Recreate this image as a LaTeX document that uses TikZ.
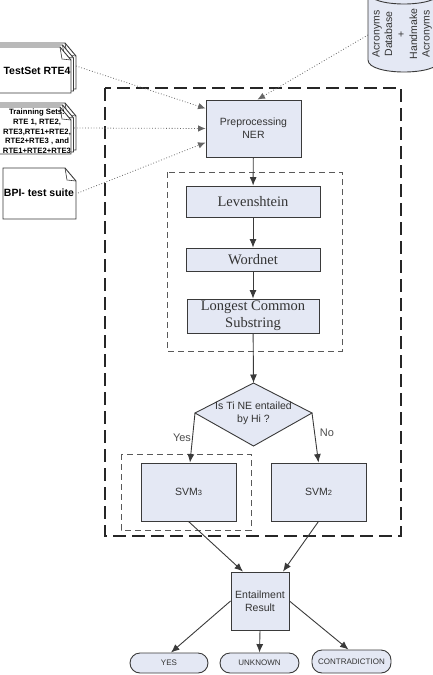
\documentclass[tikz,border=0pt]{standalone}
\usepackage{fontspec}
\setmainfont{Liberation Sans}
\newfontfamily\timesf{Liberation Serif}
\usetikzlibrary{arrows.meta,calc}
\definecolor{boxfill}{HTML}{E4E8F4}
\definecolor{edge}{HTML}{3A3A3A}
\definecolor{txt}{HTML}{333333}
\tikzset{
  x=1bp, y=-1bp,
  procbox/.style={draw=edge, fill=boxfill, line width=0.9bp, inner sep=0pt, text=txt,
    font=\fontsize{10.5bp}{13bp}\selectfont, align=center},
  serifbox/.style={procbox, font=\timesf\fontsize{14.5bp}{16bp}\selectfont},
  ovalbox/.style={draw=edge, fill=boxfill, line width=0.9bp, rounded corners=10bp, inner sep=0pt,
    text=txt, font=\fontsize{8bp}{9bp}\selectfont},
  flow/.style={draw=edge, line width=0.9bp, -{Latex[length=8.5bp,width=7bp]}},
  dotflow/.style={draw=black!60, line width=0.8bp, dotted, -{Latex[length=7.5bp,width=6.5bp]}},
  outerdash/.style={draw=black!85, line width=1.8bp, dash pattern=on 13bp off 6bp},
  innerdash/.style={draw=black!65, line width=0.9bp, dash pattern=on 6bp off 4bp},
  docpage/.style={draw=edge, fill=white, line width=0.9bp},
  doclabel/.style={font=\bfseries\fontsize{10.5bp}{12bp}\selectfont, text=black, align=center},
  branchlabel/.style={font=\fontsize{11bp}{12bp}\selectfont, text=black!70},
}
\newcommand{\mydoc}[4]{%
  \filldraw[docpage] (#1,#2) -- ({#3-11},#2) -- (#3,{#2+13}) -- (#3,#4) -- (#1,#4) -- cycle;
  \draw[edge, line width=0.6bp] ({#3-11},#2) -- ({#3-9},{#2+12}) -- (#3,{#2+13});}
\begin{document}
\begin{tikzpicture}
\useasboundingbox (0,0) rectangle (433,675);
\clip (0,0) rectangle (433,675);

% acronyms cylinder
\filldraw[docpage, fill=boxfill] (368,-20) -- (368,60) .. controls (368,76) and (440,76) .. (440,60) -- (440,-20) -- cycle;
\draw[edge, line width=0.9bp] (368,-8) .. controls (368,8) and (440,8) .. (440,-8);
\node[rotate=90, align=center, text=txt, font=\fontsize{10.5bp}{12.5bp}\selectfont] (acr) at (402,34)
  {Acronyms\\Database\\+\\Handmake\\Acronyms};
\coordinate (acrout) at (368,35);

% document stacks
\mydoc{-5}{43}{76}{89}
\mydoc{-7.5}{45}{73.5}{91}
\mydoc{-10}{47}{71}{93}
\node[doclabel] (test) at (37,71) {TestSet RTE4};
\coordinate (testout) at (76,66);

\mydoc{-5}{103}{76}{150}
\mydoc{-7.5}{105}{73.5}{152}
\mydoc{-10}{107}{71}{154}
\node[doclabel, font=\bfseries\fontsize{7.7bp}{9.7bp}\selectfont] (train) at (37,131.5)
  {Trainning Sets:\\RTE 1, RTE2,\\RTE3,RTE1+RTE2,\\RTE2+RTE3 , and\\RTE1+RTE2+RTE3};
\coordinate (trainout) at (74,128);

\mydoc{3}{168}{76}{219}
\node[doclabel] (bpi) at (39,193) {BPI- test suite};
\coordinate (bpiout) at (78,193);

% dashed frames
\draw[outerdash] (105,88) rectangle (401,536);
\draw[innerdash] (167,172) rectangle (342,351);
\draw[innerdash] (121,454) rectangle (251,530);

% main boxes
\node[procbox, minimum width=95bp, minimum height=57bp] (pre) at (253.5,128.5) {Preprocessing\\NER};
\node[serifbox, minimum width=134bp, minimum height=31bp] (lev) at (253,201.5) {Levenshtein};
\node[serifbox, minimum width=134bp, minimum height=23bp] (word) at (253,259.5) {Wordnet};
\node[serifbox, minimum width=132bp, minimum height=34bp, font=\timesf\fontsize{14.5bp}{17bp}\selectfont] (lcs) at (253,316) {Longest Common\\Substring};

% decision diamond
\coordinate (dtop) at (253.5,383);
\coordinate (dleft) at (195,413);
\coordinate (dright) at (312,413);
\coordinate (dbot) at (253.5,446);
\filldraw[draw=edge, fill=boxfill, line width=0.9bp] (dtop) -- (dright) -- (dbot) -- (dleft) -- cycle;
\node[text=txt, align=center, font=\fontsize{10.5bp}{13bp}\selectfont] (dtext) at (253.5,413) {Is Ti NE entailed\\by Hi ?};

\node[procbox, minimum width=95bp, minimum height=58bp] (svm3) at (188.5,492)
  {SVM{\fontsize{7.5bp}{8bp}\selectfont\raisebox{-0.6bp}{3}}};
\node[procbox, minimum width=95bp, minimum height=58bp] (svm2) at (318.5,492)
  {SVM{\fontsize{7.5bp}{8bp}\selectfont\raisebox{-0.6bp}{2}}};

\node[procbox, minimum width=58bp, minimum height=58bp] (res) at (260,601) {Entailment\\Result};

\node[ovalbox, minimum width=78bp, minimum height=20bp] (yes) at (169,663) {YES};
\node[ovalbox, minimum width=79bp, minimum height=20bp] (unk) at (259.5,663) {UNKNOWN};
\node[ovalbox, minimum width=79bp, minimum height=23bp] (con) at (351.5,661.5) {CONTRADICTION};

% connectors
\draw[dotflow] (testout) -- ($(pre.west)+(0,-20)$);
\draw[dotflow] (trainout) -- (pre.west);
\draw[dotflow] (bpiout) -- ($(pre.west)+(0,14)$);
\draw[dotflow] (acrout) -- ($(pre.north)+(4,0)$);

\draw[flow] (pre) -- (lev);
\draw[flow] (lev) -- (word);
\draw[flow] (word) -- (lcs);
\draw[flow] (lcs) -- (dtop);
\draw[flow] (dleft) -- ($(svm3.north)+(1.5,0)$);
\draw[flow] (dright) -- (svm2.north);
\node[branchlabel] (yeslab) at (182,438) {Yes};
\node[branchlabel] (nolab) at (327,433) {No};

\draw[flow] (svm3.south) -- ($(res.north)+(-17,0)$);
\draw[flow] (svm2.south) -- ($(res.north)+(23,0)$);
\draw[flow] (res.west) -- ($(yes.north)+(2,0)$);
\draw[flow] (res.south) -- (unk.north);
\draw[flow] (res.east) -- ($(con.north)+(-3,0)$);
\end{tikzpicture}
\end{document}
